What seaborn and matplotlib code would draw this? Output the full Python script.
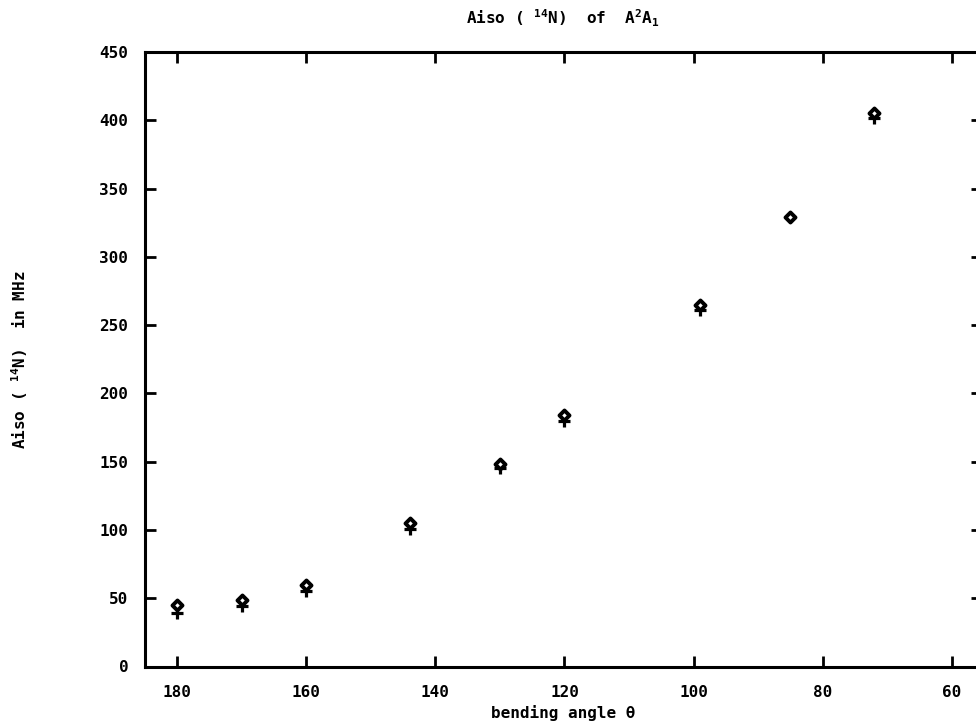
import numpy as np
import pandas as pd
import matplotlib
matplotlib.use("Agg")
import matplotlib.pyplot as plt
import seaborn as sns

# Bending angle (degrees) and isotropic hyperfine constant of 14N (MHz)
angles = [180, 170, 160, 144, 130, 120, 99, 85, 72]
aiso_diamond = [45, 49, 60, 105, 148, 184, 265, 329, 405]
aiso_plus = [39, 44.5, 55, 100.5, 145.5, 180, 261, np.nan, 402]

x_ticks = [180, 160, 140, 120, 100, 80, 60]
y_ticks = [0, 50, 100, 150, 200, 250, 300, 350, 400, 450]

sns.set_style("ticks")
plt.rcParams["font.family"] = ["DejaVu Sans Mono", "DejaVu Sans"]
plt.rcParams["font.weight"] = "bold"
plt.rcParams["text.color"] = "black"
plt.rcParams["axes.labelcolor"] = "black"
plt.rcParams["xtick.color"] = "black"
plt.rcParams["ytick.color"] = "black"
plt.rcParams["mathtext.fontset"] = "custom"
plt.rcParams["mathtext.rm"] = "DejaVu Sans Mono:bold"
plt.rcParams["mathtext.it"] = "DejaVu Sans Mono:bold"
plt.rcParams["mathtext.bf"] = "DejaVu Sans Mono:bold"

df = pd.DataFrame({"angle": angles, "diamond": aiso_diamond, "plus": aiso_plus})

fig = plt.figure(figsize=(9.76, 7.21), dpi=100)
ax = fig.add_axes([145 / 976, 1 - 666.5 / 721, (982 - 145) / 976, (666.5 - 52) / 721])

sns.scatterplot(data=df, x="angle", y="plus", ax=ax, marker="+", s=85,
                color="black", linewidth=2.3, zorder=3)
sns.scatterplot(data=df, x="angle", y="diamond", ax=ax, marker="D", s=26,
                facecolor="white", edgecolor="black", linewidth=2.8, zorder=4)

ax.set_xlim(185, 55.3)
ax.set_ylim(0, 450)
ax.set_xticks(x_ticks)
ax.set_yticks(y_ticks)
ax.set_xticklabels([str(t) for t in x_ticks])
ax.set_yticklabels([str(t) for t in y_ticks])

ax.tick_params(axis="both", which="major", direction="in", length=8, width=2,
               labelsize=11.5, top=True, right=True, color="black",
               labelcolor="black")
ax.tick_params(axis="x", pad=13)
ax.tick_params(axis="y", pad=12)

for side in ["left", "right", "top", "bottom"]:
    ax.spines[side].set_visible(True)
    ax.spines[side].set_linewidth(2.2)
    ax.spines[side].set_color("black")

ax.set_xlabel("bending angle θ", fontsize=11.5, fontweight="bold", labelpad=4,
              color="black")
ax.set_ylabel(r"Aiso ( $^{14}$N)  in MHz", fontsize=11.5, fontweight="bold",
              color="black")
ax.yaxis.set_label_coords((30 - 145) / 837, 0.5)

fig.text(563 / 976, 1 - 18 / 721, r"Aiso ( $^{14}$N)  of  A$^{2}$A$_{1}$",
         ha="center", va="center", fontsize=11.5, fontweight="bold",
         color="black")

fig.savefig("out.png", dpi=100, facecolor="white")
